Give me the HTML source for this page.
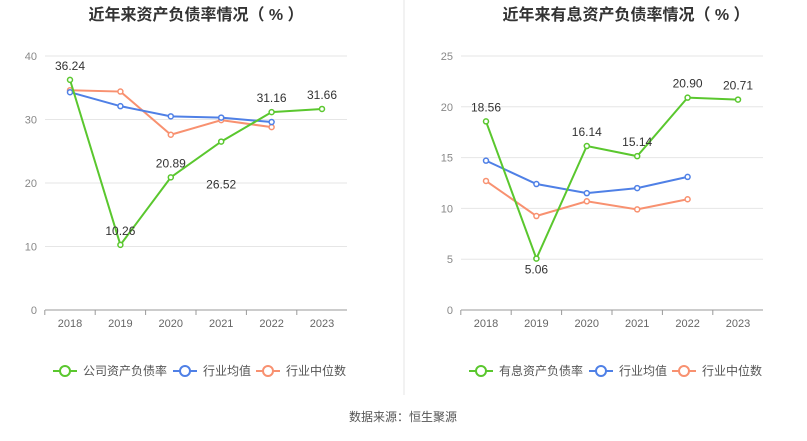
<!DOCTYPE html>
<html><head><meta charset="utf-8"><style>
body{margin:0;background:#fff;width:807px;height:436px;overflow:hidden;font-family:"Liberation Sans","Noto Sans CJK SC",sans-serif}
</style></head><body>
<svg id="s" width="807" height="436" xmlns="http://www.w3.org/2000/svg"></svg>
<script>
const years=["2018","2019","2020","2021","2022","2023"];
const leftCompany=[36.24,10.26,20.89,26.52,31.16,31.66];
const leftAvg=[34.3,32.1,30.5,30.3,29.6];
const leftMedian=[34.6,34.4,27.6,29.9,28.8];
const leftTicks=[0,10,20,30,40];
const leftBelow=[false,false,false,true,false,false];
const rightCompany=[18.56,5.06,16.14,15.14,20.90,20.71];
const rightAvg=[14.7,12.4,11.5,12.0,13.1];
const rightMedian=[12.7,9.25,10.7,9.9,10.9];
const rightTicks=[0,5,10,15,20,25];
const rightBelow=[false,true,false,false,false,false];
const NS="http://www.w3.org/2000/svg";
const svg=document.getElementById('s');
function el(t,a,p){const e=document.createElementNS(NS,t);for(const k in a)e.setAttribute(k,a[k]);(p||svg).appendChild(e);return e;}
const G='#5ac72e',B='#4f80e6',O='#f89170';
function chart(ox,title,tcx,max,ticks,comp,avg,med,below,belowDy,legName,key){
  const x0=ox+45,x1=ox+347,y0=310,y1=56;
  const xs=i=>ox+70+i*50.4;
  const ys=v=>y0-(v/max)*(y0-y1);
  const g=el('g',{});
  
  
  const t=el('text',{x:tcx,y:20,'text-anchor':'middle','font-size':16,'font-weight':'bold',fill:'#333'},g);
  t.textContent=title;
  
  ticks.forEach(v=>{
    const l=el('line',{x1:x0,x2:x1,y1:ys(v),y2:ys(v),stroke:v===0?'#999':'#e6e6e6'},g);
    
    const tx=el('text',{x:x0-8,y:ys(v)+4,'text-anchor':'end','font-size':11,fill:'#888'},g);
    tx.textContent=v;
    
  });
  years.forEach((y,i)=>{
    const tk=el('line',{x1:xs(i)-25.2,x2:xs(i)-25.2,y1:y0,y2:y0+5,stroke:'#999'},g);
    
    const tx=el('text',{x:xs(i),y:y0+17,'text-anchor':'middle','font-size':11,fill:'#666'},g);
    tx.textContent=y;
    
  });
  function series(data,c,name){
    const p=el('polyline',{points:data.map((v,i)=>xs(i)+','+ys(v)).join(' '),fill:'none',stroke:c,'stroke-width':2},g);
    
    data.forEach((v,i)=>{
      const c2=el('circle',{cx:xs(i),cy:ys(v),r:2.5,fill:'#fff',stroke:c,'stroke-width':1.5},g);
      
    });
  }
  series(med,O,'industry-median');
  series(avg,B,'industry-average');
  series(comp,G,'company');
  comp.forEach((v,i)=>{
    const tx=el('text',{x:xs(i),y:below[i]?ys(v)+belowDy+4:ys(v)-10,'text-anchor':'middle','font-size':12,fill:'#333'},g);
    tx.textContent=v.toFixed(2);
    
  });
  const leg=[[legName,G,ox+53],['行业均值',B,ox+173],['行业中位数',O,ox+256]];
  leg.forEach(([n,c,lx])=>{
    const lg=el('g',{},g);
    
    el('line',{x1:lx,x2:lx+24,y1:371,y2:371,stroke:c,'stroke-width':2},lg);
    el('circle',{cx:lx+12,cy:371,r:5,fill:'#fff',stroke:c,'stroke-width':2},lg);
    const tx=el('text',{x:lx+30,y:375,'font-size':12,fill:'#555'},lg);tx.textContent=n;
  });
}
chart(0,'近年来资产负债率情况（ % ）',196,40,leftTicks,leftCompany,leftAvg,leftMedian,leftBelow,43,'公司资产负债率','left');
chart(416,'近年来有息资产负债率情况（ % ）',626,25,rightTicks,rightCompany,rightAvg,rightMedian,rightBelow,11,'有息资产负债率','right');
const d=el('line',{x1:404,x2:404,y1:0,y2:395,stroke:'#e6e6e6'});

const src=el('text',{x:403,y:421,'text-anchor':'middle','font-size':12,fill:'#555'});
src.textContent='数据来源：恒生聚源';

</script>
</body></html>
